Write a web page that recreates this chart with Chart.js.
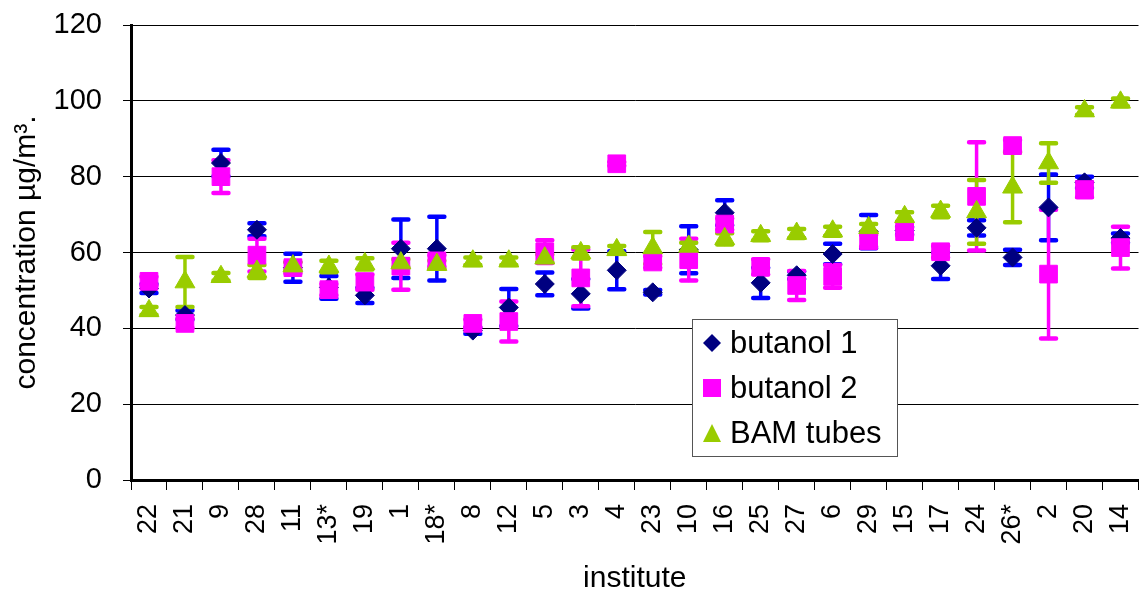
<!DOCTYPE html>
<html>
<head>
<meta charset="utf-8">
<title>Butanol comparison</title>
<script src="https://cdn.jsdelivr.net/npm/chart.js@4.4.1/dist/chart.umd.min.js"></script>
<style>
    html, body { margin: 0; padding: 0; background: #fff; overflow: hidden; }
    #wrap { position: relative; width: 1152px; height: 597px; }
</style>
</head>
<body>
<div id="wrap"><canvas id="chart"></canvas></div>
<script>
// institutes along the x axis
const institutes = ['22', '21', '9', '28', '11', '13*', '19', '1', '18*', '8', '12', '5', '3', '4',
    '23', '10', '16', '25', '27', '6', '29', '15', '17', '24', '26*', '2', '20', '14'];

// concentration µg/m³ with error bar half-widths
const butanol1 = [50.5, 43.5, 83.6, 66.0, 56.0, 50.8, 48.7, 61.0, 61.0, 39.4, 45.5, 51.7, 49.1, 55.3,
    49.5, 60.7, 70.5, 52.0, 54.0, 59.6, 65.5, 65.8, 56.5, 66.5, 58.7, 71.9, 78.5, 63.8];
const butanol1Err = [1.2, 1.2, 3.5, 1.7, 3.7, 3.0, 2.0, 7.7, 8.4, 0.8, 4.9, 3.0, 3.9, 5.0,
    0.6, 6.2, 3.3, 4.0, 1.0, 2.7, 4.4, 1.0, 3.5, 2.0, 2.0, 8.7, 1.5, 1.2];

const butanol2 = [52.4, 41.3, 80.0, 59.3, 56.0, 50.2, 52.2, 56.4, 57.8, 41.3, 41.8, 60.2, 53.3, 83.4,
    57.5, 58.1, 67.5, 56.2, 51.3, 53.7, 63.1, 65.5, 60.2, 74.8, 88.2, 54.3, 76.6, 61.3];
const butanol2Err = [1.2, 1.2, 4.3, 4.3, 1.5, 1.5, 2.0, 6.2, 1.5, 1.0, 5.3, 3.0, 7.5, 0.5,
    1.5, 5.5, 1.5, 2.0, 3.8, 3.0, 1.5, 1.0, 1.5, 14.3, 1.5, 17.0, 2.0, 5.5];

const bamTubes = [44.6, 52.2, 53.6, 55.0, 56.4, 56.3, 57.0, 57.2, 56.8, 57.7, 57.7, 58.5, 59.9, 60.7,
    61.2, 61.6, 63.6, 64.4, 65.0, 65.6, 66.5, 69.4, 70.8, 70.7, 77.2, 83.6, 97.3, 99.6];
const bamTubesErr = [1.0, 6.6, 1.0, 1.7, 1.0, 1.5, 1.5, 1.0, 1.0, 1.0, 1.0, 1.0, 1.5, 1.0,
    4.2, 1.0, 1.5, 1.2, 1.2, 1.2, 1.0, 1.2, 1.5, 8.4, 9.2, 5.2, 1.0, 1.0];

const FONT = "'Liberation Sans', Arial, sans-serif";

// all error bars go under all markers, series by series
const errorBars = {
    id: 'errorBars',
    beforeDatasetsDraw(chart) {
        const y = chart.scales.y;
        const ctx = chart.ctx;
        ctx.save();
        ctx.lineCap = 'round';
        chart.data.datasets.forEach((ds, di) => {
            if (!ds.errors) return;
            const meta = chart.getDatasetMeta(di);
            ctx.strokeStyle = ds.errorColor;
            meta.data.forEach((pt, i) => {
                const v = ds.data[i];
                const e = ds.errors[i];
                if (v == null || !e) return;
                const top = y.getPixelForValue(v + e);
                const bot = y.getPixelForValue(v - e);
                ctx.lineWidth = 3.5;
                ctx.beginPath();
                ctx.moveTo(pt.x, top);
                ctx.lineTo(pt.x, bot);
                ctx.stroke();
                ctx.lineWidth = 4.5;
                ctx.beginPath();
                ctx.moveTo(pt.x - 7.5, top);
                ctx.lineTo(pt.x + 7.5, top);
                ctx.moveTo(pt.x - 7.5, bot);
                ctx.lineTo(pt.x + 7.5, bot);
                ctx.stroke();
            });
        });
        ctx.restore();
    }
};

// boxed legend sitting inside the plot area
const boxLegend = {
    id: 'boxLegend',
    afterDraw(chart) {
        const ctx = chart.ctx;
        const bx = 692, by = 319, bw = 205, bh = 137;
        ctx.save();
        ctx.fillStyle = '#fff';
        ctx.fillRect(bx, by, bw, bh);
        ctx.strokeStyle = '#555';
        ctx.lineWidth = 1;
        ctx.strokeRect(bx + 0.5, by + 0.5, bw, bh);
        ctx.font = `31px ${FONT}`;
        ctx.textBaseline = 'middle';
        chart.data.datasets.forEach((ds, i) => {
            const cy = by + 24 + i * 45;
            const cx = bx + 20;
            ctx.fillStyle = ds.pointBackgroundColor;
            ctx.beginPath();
            if (ds.pointStyle === 'rectRot') {
                ctx.moveTo(cx, cy - 9); ctx.lineTo(cx + 9, cy); ctx.lineTo(cx, cy + 9); ctx.lineTo(cx - 9, cy);
            } else if (ds.pointStyle === 'rect') {
                ctx.rect(cx - 9, cy - 9, 18, 18);
            } else {
                ctx.moveTo(cx, cy - 9); ctx.lineTo(cx + 9, cy + 9); ctx.lineTo(cx - 9, cy + 9);
            }
            ctx.closePath();
            ctx.fill();
            ctx.fillStyle = '#000';
            ctx.fillText(ds.label, bx + 38, cy + 1);
        });
        ctx.restore();
    }
};

const ctx = document.getElementById('chart').getContext('2d');
new Chart(ctx, {
    type: 'line',
    data: {
        labels: institutes,
        datasets: [{
            label: 'butanol 1',
            data: butanol1,
            errors: butanol1Err,
            errorColor: '#0000ff',
            showLine: false,
            pointStyle: 'rectRot',
            pointRadius: 9.5,
            pointBackgroundColor: '#000080',
            pointBorderColor: '#000080',
            pointBorderWidth: 1,
            order: 3
        }, {
            label: 'butanol 2',
            data: butanol2,
            errors: butanol2Err,
            errorColor: '#ff00ff',
            showLine: false,
            pointStyle: 'rect',
            pointRadius: 12.5,
            pointBackgroundColor: '#ff00ff',
            pointBorderColor: '#ff00ff',
            pointBorderWidth: 1,
            order: 2
        }, {
            label: 'BAM tubes',
            data: bamTubes,
            errors: bamTubesErr,
            errorColor: '#99cc00',
            showLine: false,
            pointStyle: 'triangle',
            pointRadius: 11.5,
            pointBackgroundColor: '#99cc00',
            pointBorderColor: '#99cc00',
            pointBorderWidth: 1,
            order: 1
        }]
    },
    options: {
        responsive: true,
        maintainAspectRatio: false,
        animation: false,
        layout: { padding: { top: 25, right: 1, left: 0, bottom: 0 } },
        plugins: {
            legend: { display: false },
            tooltip: { enabled: false }
        },
        scales: {
            x: {
                type: 'category',
                offset: true,
                grid: { offset: true, drawOnChartArea: false, tickLength: 10, color: '#000', lineWidth: 1 },
                border: { color: '#000', width: 3 },
                ticks: {
                    color: '#000',
                    font: { family: FONT, size: 27 },
                    padding: 14,
                    minRotation: 90,
                    maxRotation: 90,
                    autoSkip: false
                },
                title: {
                    display: true,
                    text: 'institute',
                    color: '#000',
                    font: { family: FONT, size: 30 },
                    padding: 0
                },
                afterFit(scale) {
                    scale.height = 117;
                    scale.paddingLeft = 0;
                    scale.paddingRight = 0;
                }
            },
            y: {
                min: 0,
                max: 120,
                ticks: {
                    stepSize: 20,
                    color: '#000',
                    font: { family: FONT, size: 29 },
                    padding: 21
                },
                grid: { color: '#000', lineWidth: 1, tickLength: 8 },
                border: { color: '#000', width: 3 },
                title: {
                    display: true,
                    text: 'concentration µg/m³.',
                    color: '#000',
                    font: { family: FONT, size: 30 },
                    padding: { top: 9, bottom: 0 }
                },
                afterFit(scale) {
                    scale.width = 131;
                    scale.paddingTop = 0;
                    scale.paddingBottom = 0;
                }
            }
        }
    },
    plugins: [errorBars, boxLegend]
});
</script>
</body>
</html>
